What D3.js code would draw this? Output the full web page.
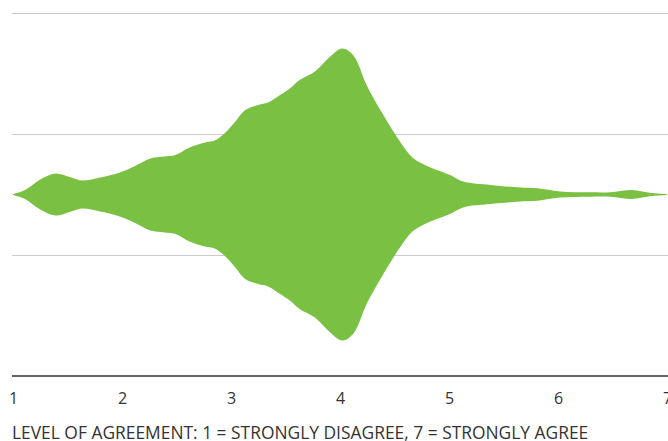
<!DOCTYPE html>
<html>
<head>
<meta charset="utf-8">
<script src="https://cdn.jsdelivr.net/npm/d3@7"></script>
<style>
  body { margin: 0; background: #fff; }
  text { font-family: "Open Sans", "Noto Sans", sans-serif; fill: #333; }
</style>
</head>
<body>
<div id="chart"></div>
<script>
// agreement level (1-7) and half-width of the violin (density units)
const levels = [1.00, 1.11, 1.25, 1.39, 1.52, 1.63, 1.80, 1.98, 2.12, 2.26, 2.39, 2.49,
    2.62, 2.76, 2.85, 2.94, 3.04, 3.13, 3.25, 3.34, 3.45, 3.54, 3.63, 3.77, 3.91, 4.02,
    4.12, 4.25, 4.39, 4.55, 4.67, 4.83, 5.01, 5.13, 5.38, 5.65, 5.81, 6.02, 6.29, 6.48,
    6.68, 6.84, 7.00];
const density = [0.004, 0.037, 0.124, 0.174, 0.145, 0.116, 0.140, 0.182, 0.236, 0.298, 0.314, 0.326,
    0.388, 0.430, 0.446, 0.504, 0.603, 0.698, 0.740, 0.760, 0.822, 0.876, 0.946, 1.017, 1.140, 1.207,
    1.153, 0.893, 0.669, 0.438, 0.302, 0.223, 0.161, 0.107, 0.079, 0.058, 0.051, 0.025, 0.018, 0.018,
    0.037, 0.015, 0.004];
const xTicks = [1, 2, 3, 4, 5, 6, 7];
const gridValues = [1.5, 0.5, -0.5];
const xTitle = "LEVEL OF AGREEMENT: 1 = STRONGLY DISAGREE, 7 = STRONGLY AGREE";

const width = 668;
const height = 441;

const violinData = levels.map((d, i) => ({ level: d, value: density[i] }));

const svg = d3.select("#chart")
    .append("svg")
    .attr("width", width)
    .attr("height", height);

const xScale = d3.scaleLinear()
    .domain([1, 7])
    .range([13, 667]);

const yScale = d3.scaleLinear()
    .domain([-1.5, 1.5])
    .range([376, 13]);

// gridlines
svg.selectAll(".grid")
    .data(gridValues)
    .enter()
    .append("line")
    .attr("class", "grid")
    .attr("x1", 12)
    .attr("x2", width)
    .attr("y1", d => Math.round(yScale(d)) + 0.5)
    .attr("y2", d => Math.round(yScale(d)) + 0.5)
    .attr("stroke", "#cccccc")
    .attr("stroke-width", 1.2);

// violin shape
const area = d3.area()
    .x(d => xScale(d.level))
    .y0(d => yScale(-d.value))
    .y1(d => yScale(d.value))
    .curve(d3.curveCatmullRom.alpha(0.5));

svg.append("path")
    .datum(violinData)
    .attr("d", area)
    .attr("fill", "#7ac143");

// x axis
const xAxis = d3.axisBottom(xScale)
    .tickValues(xTicks)
    .tickSize(0)
    .tickPadding(17)
    .tickFormat(d3.format("d"));

const axisG = svg.append("g")
    .attr("class", "x-axis")
    .attr("transform", "translate(0," + yScale(-1.5) + ")")
    .call(xAxis);

axisG.select(".domain")
    .attr("d", "M12,0H" + width)
    .attr("stroke", "#666")
    .attr("stroke-width", 2);

axisG.selectAll("text")
    .style("font-family", "'Open Sans', 'Noto Sans', sans-serif")
    .style("font-size", "16px")
    .attr("fill", "#333");

svg.append("text")
    .attr("class", "x-axis-label")
    .attr("x", 12)
    .attr("y", 439)
    .style("font-size", "17.4px")
    .text(xTitle);
</script>
</body>
</html>
